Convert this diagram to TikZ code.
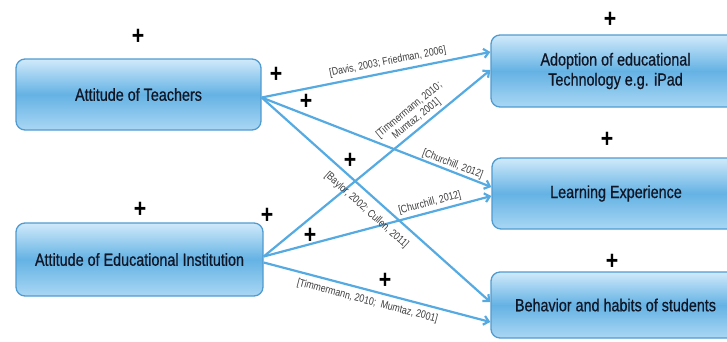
\documentclass[tikz,border=0pt]{standalone}
\usepackage{fontspec}
\setmainfont{Liberation Sans}[FakeStretch=0.82]
\usetikzlibrary{arrows.meta}
\definecolor{linecol}{RGB}{85,170,225}
\definecolor{boxtop}{RGB}{208,234,250}
\definecolor{boxmid}{RGB}{100,178,228}
\definecolor{boxbot}{RGB}{170,215,244}
\definecolor{boxline}{RGB}{80,155,208}
\definecolor{boxtext}{RGB}{15,22,38}
\definecolor{labtext}{RGB}{60,60,60}
\tikzset{
  box/.style={rectangle, rounded corners=9pt, draw=boxline, line width=1.3pt,
    top color=boxtop, bottom color=boxbot, middle color=boxmid,
    inner sep=0pt, align=center, text=boxtext, font=\fontsize{17.5}{20}\selectfont\addfontfeature{FakeBold=0.6}},
  conn/.style={draw=linecol, line width=2.2pt, -{Straight Barb[length=5pt,width=9pt]}},
  lab/.style={font=\fontsize{10.8}{11.5}\selectfont, text=labtext, inner sep=1pt, align=center, sloped},
  plus/.style={font=\fontsize{26}{26}\selectfont\bfseries, inner sep=0pt}
}
\begin{document}
\begin{tikzpicture}[x=1pt,y=-1pt]
\useasboundingbox (0,0) rectangle (727,341);
\clip (0,0) rectangle (727,341);
\node[box, minimum width=245pt, minimum height=71pt] (teach) at (138.5,94.5) {Attitude of Teachers};
\node[box, minimum width=247pt, minimum height=73pt] (inst) at (139.5,259.5) {Attitude of Educational Institution};
\node[box, minimum width=249pt, minimum height=72pt] (adopt) at (615.5,71) {Adoption of educational\\Technology e.g. iPad};
\node[box, minimum width=248pt, minimum height=71pt] (learn) at (616,193.5) {Learning Experience};
\node[box, minimum width=249pt, minimum height=66pt] (behav) at (615.5,305) {Behavior and habits of students};

\draw[conn] ([yshift=-3pt]teach.east) -- node[lab, pos=0.56, above=3pt] {[Davis, 2003; Friedman, 2006]} ([yshift=19pt]adopt.west);
\draw[conn] ([yshift=3pt]inst.east) -- node[lab, pos=0.70, above=2pt] {[Timmermann, 2010;\\ Mumtaz, 2001]} ([yshift=1pt]adopt.west);
\draw[conn] ([yshift=-3pt]teach.east) -- node[lab, pos=0.82, above=0pt] {[Churchill, 2012]} ([yshift=6.5pt]learn.west);
\draw[conn] ([yshift=3pt]inst.east) -- node[lab, pos=0.74, above=2pt] {[Churchill, 2012]} ([yshift=-2.5pt]learn.west);
\draw[conn] ([yshift=-3pt]teach.east) -- node[lab, pos=0.50, below=7pt] {[Baylor, 2002; Cullen, 2011]} ([yshift=3pt]behav.west);
\draw[conn] ([yshift=-3pt]inst.east) -- node[lab, pos=0.47, below=4pt] {[Timmermann, 2010;\ \ Mumtaz, 2001]} ([yshift=-17pt]behav.west);

\node[plus] (p1) at (138,37) {+};
\node[plus] (p2) at (276,75) {+};
\node[plus] (p3) at (306,102) {+};
\node[plus] (p4) at (610,20) {+};
\node[plus] (p5) at (607,140) {+};
\node[plus] (p6) at (350,161) {+};
\node[plus] (p7) at (140,210) {+};
\node[plus] (p8) at (267,216) {+};
\node[plus] (p9) at (310,236) {+};
\node[plus] (p10) at (612,262) {+};
\node[plus] (p11) at (385,281) {+};
\end{tikzpicture}
\end{document}
